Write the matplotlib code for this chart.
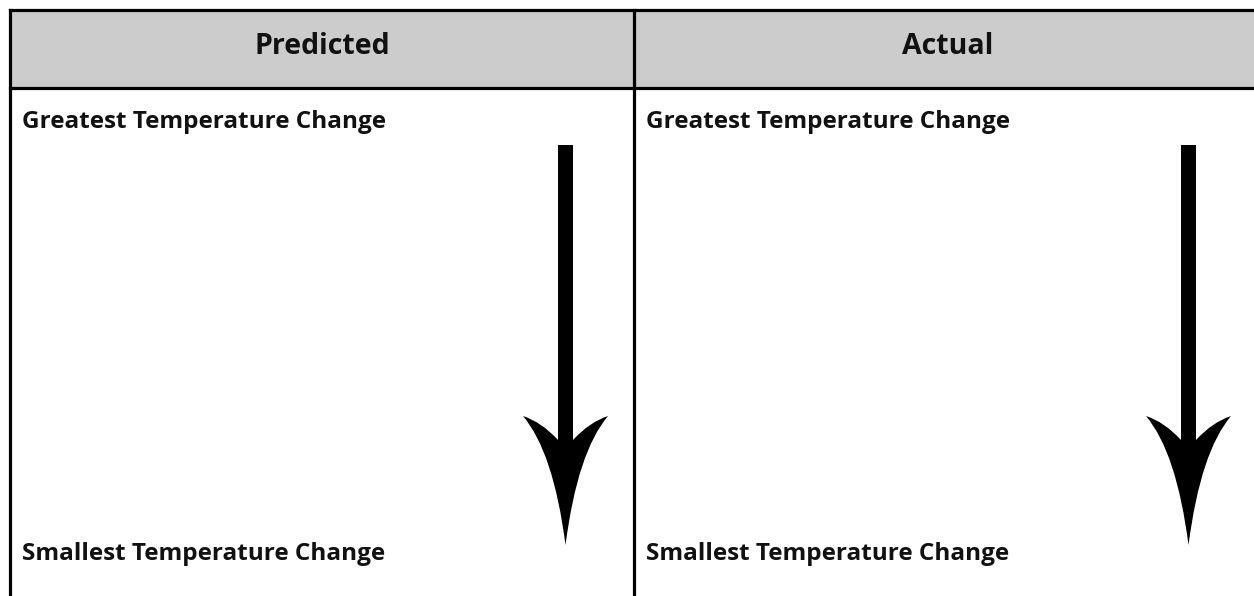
import matplotlib.pyplot as plt
from matplotlib.patches import PathPatch, Rectangle
from matplotlib.path import Path

plt.rcParams['font.family'] = ['Open Sans', 'DejaVu Sans']

# table content
headers = ["Predicted", "Actual"]
top_labels = ["Greatest Temperature Change", "Greatest Temperature Change"]
bottom_labels = ["Smallest Temperature Change", "Smallest Temperature Change"]

# layout in pixel units (y grows downward)
W, H = 1254, 596
col_edges = [10, 634]
top_y = 10
header_y = 88
arrow_cx = [565.5, 1188.5]
shaft_top = 145
shaft_half = 7.5
wing_y = 416
join_y = 440
wing_half = 42.5
tip_y = 545


def arrow_path(cx):
    M, L, C3, CL = Path.MOVETO, Path.LINETO, Path.CURVE3, Path.CLOSEPOLY
    verts = [
        (cx - shaft_half, shaft_top),
        (cx + shaft_half, shaft_top),
        (cx + shaft_half, join_y),
        (cx + 24, 422), (cx + wing_half, wing_y),
        (cx + 12, 452), (cx, tip_y),
        (cx - 12, 452), (cx - wing_half, wing_y),
        (cx - 24, 422), (cx - shaft_half, join_y),
        (cx - shaft_half, shaft_top),
    ]
    codes = [M, L, L, C3, C3, C3, C3, C3, C3, C3, C3, CL]
    return Path(verts, codes)


fig = plt.figure(figsize=(W / 100, H / 100), dpi=100)
ax = fig.add_axes([0, 0, 1, 1])
ax.set_xlim(0, W)
ax.set_ylim(H, 0)
ax.axis("off")

# header band
ax.add_patch(Rectangle((col_edges[0], top_y), W - col_edges[0], header_y - top_y,
                       facecolor="#cccccc", edgecolor="none"))
ax.plot([col_edges[0], W], [top_y, top_y], color="black", lw=2.3, solid_capstyle="projecting")
ax.plot([col_edges[0], W], [header_y, header_y], color="black", lw=2.3)
for x in col_edges:
    ax.plot([x, x], [top_y, H], color="black", lw=2.3, solid_capstyle="projecting")

for i, name in enumerate(headers):
    left = col_edges[i]
    right = col_edges[i + 1] if i + 1 < len(col_edges) else W + 8
    ax.text((left + right) / 2, 54, name, ha="center", va="baseline",
            fontsize=20.5, fontweight="bold", color="#111111")
    ax.text(left + 12, 128, top_labels[i], ha="left", va="baseline",
            fontsize=17.5, fontweight="bold", color="#111111")
    ax.text(left + 12, 560, bottom_labels[i], ha="left", va="baseline",
            fontsize=17.5, fontweight="bold", color="#111111")
    ax.add_patch(PathPatch(arrow_path(arrow_cx[i]), facecolor="black", edgecolor="none"))

fig.savefig("out.png", dpi=100)
